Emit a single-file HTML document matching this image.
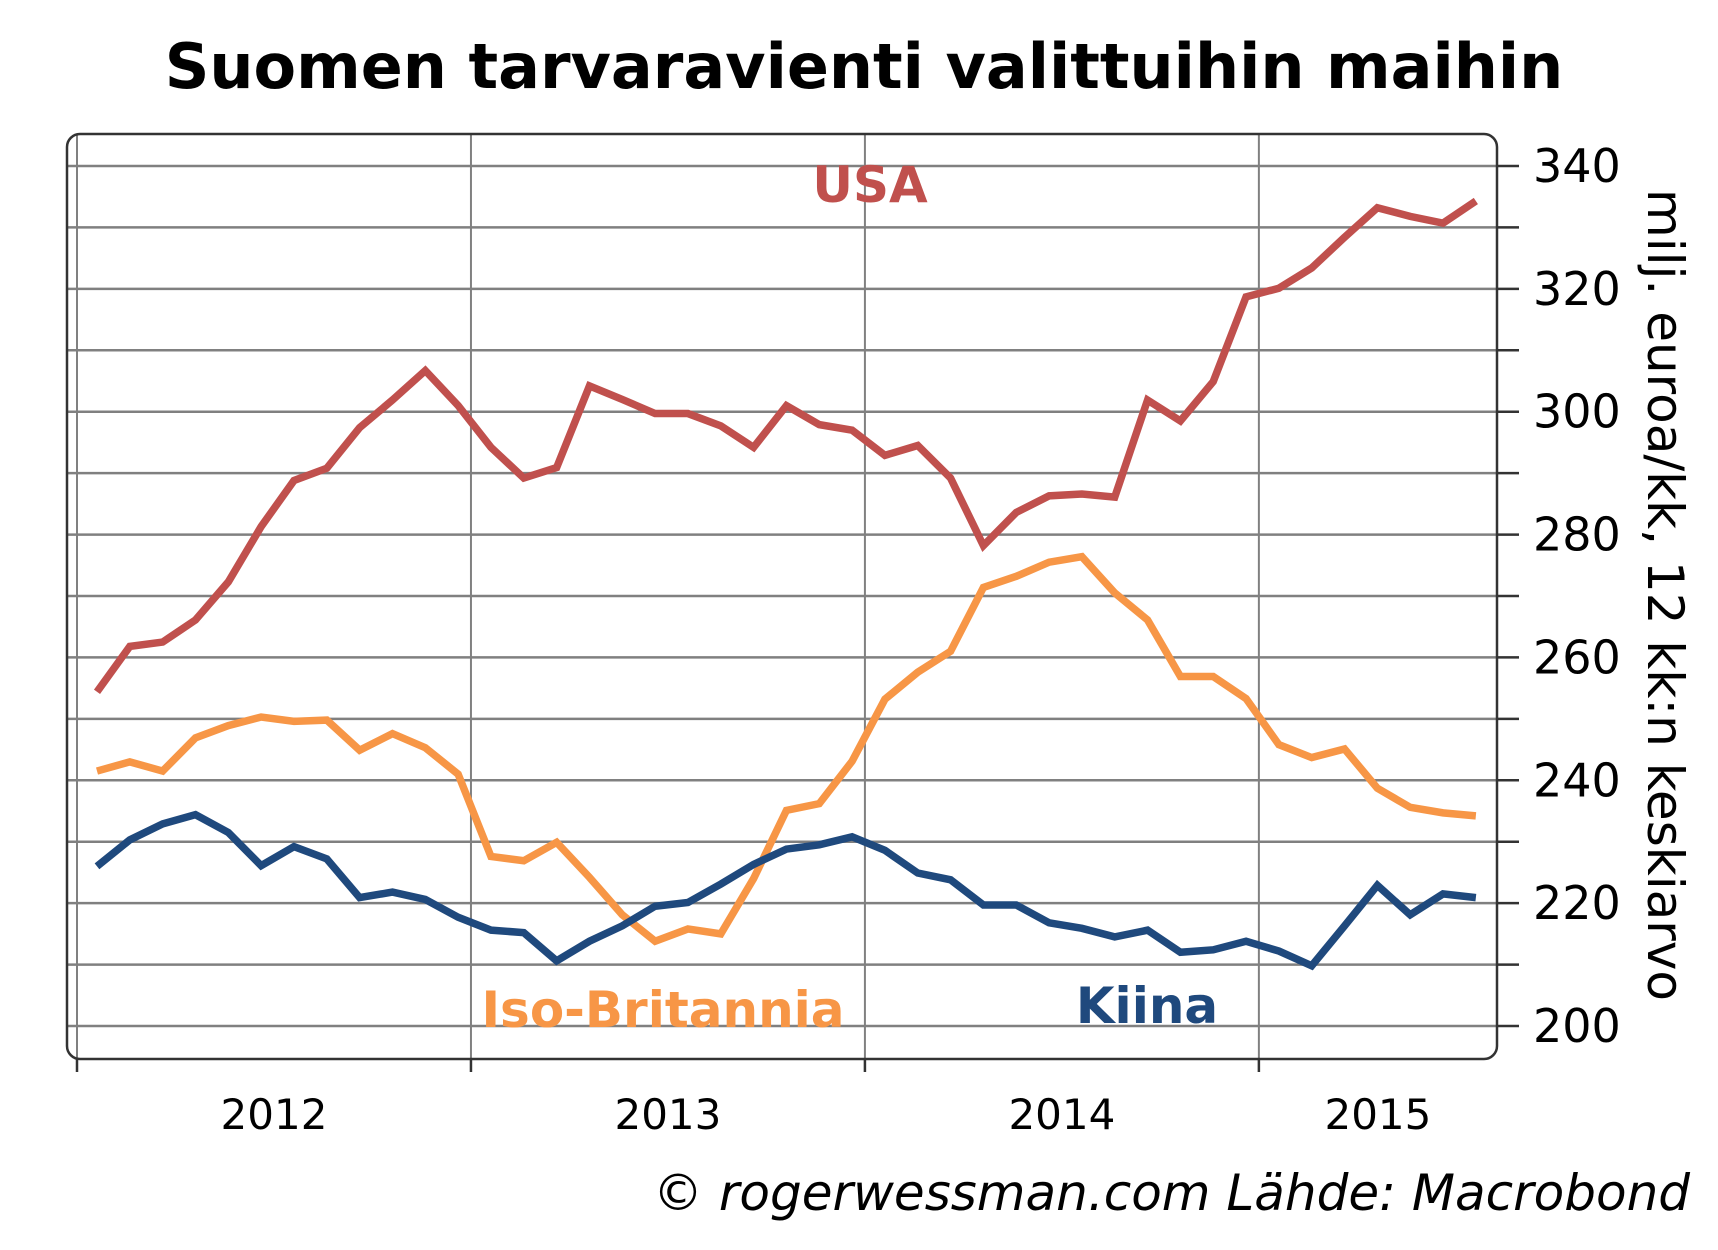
<!DOCTYPE html>
<html><head><meta charset="utf-8"><style>
html,body{margin:0;padding:0;background:#fff;}
svg{display:block;font-family:"DejaVu Sans","Liberation Sans",sans-serif;}
</style></head><body>
<svg id="chart" width="1718" height="1250" viewBox="0 0 1718 1250" xmlns="http://www.w3.org/2000/svg">
<text x="864" y="88" text-anchor="middle" font-size="62" font-weight="bold" fill="#000">Suomen tarvaravienti valittuihin maihin</text>
<g id="grid"></g>
<rect x="67" y="134" width="1430" height="925" rx="13" fill="none" stroke="#333" stroke-width="2.5"/>
<g id="axes"></g>
<g id="series"></g>
<text x="870" y="202" text-anchor="middle" font-size="50" font-weight="bold" fill="#c0504d">USA</text>
<text x="663" y="1027" text-anchor="middle" font-size="50" font-weight="bold" fill="#f79646">Iso-Britannia</text>
<text x="1147" y="1023" text-anchor="middle" font-size="50" font-weight="bold" fill="#1f497d">Kiina</text>
<text transform="translate(1648,595) rotate(90)" text-anchor="middle" font-size="50" fill="#000">milj. euroa/kk, 12 kk:n keskiarvo</text>
<text x="1690" y="1210" text-anchor="end" font-size="50" font-style="italic" fill="#000">© rogerwessman.com Lähde: Macrobond</text>
</svg>
<script>
const usa=[254.4,261.8,262.5,266.1,272.3,281.3,288.8,290.8,297.4,301.9,306.7,301,294.2,289.2,290.9,304.2,302,299.7,299.7,297.7,294.2,301,297.9,297,292.9,294.5,289.2,278.2,283.6,286.3,286.6,286.1,301.9,298.5,304.9,318.7,320.1,323.4,328.4,333.2,331.8,330.7,334.3];
const uk=[241.5,243,241.5,246.9,248.9,250.3,249.6,249.8,244.9,247.6,245.3,241,227.6,226.9,229.9,224.2,218.1,213.8,215.8,215,224,235.1,236.2,243.1,253.2,257.6,261,271.4,273.2,275.5,276.4,270.5,266.1,256.9,256.9,253.3,245.8,243.7,245.1,238.7,235.6,234.7,234.2];
const china=[226,230.3,232.9,234.4,231.5,226.1,229.2,227.2,220.9,221.8,220.6,217.7,215.6,215.2,210.6,213.8,216.3,219.5,220.1,223.1,226.3,228.8,229.5,230.8,228.6,224.9,223.8,219.7,219.7,216.8,215.9,214.5,215.6,212,212.4,213.8,212.2,209.8,216.3,222.9,218.1,221.5,220.9];
const yTicks=[200,220,240,260,280,300,320,340];
const years=["2012","2013","2014","2015"];
const NS="http://www.w3.org/2000/svg";
function y(v){return 166+(340-v)*(1026-166)/140;}
function x(i){return 97+i*32.83;}
function yearX(k){return x(0)-20+k*12*32.83;}
function mk(t,a,p){const e=document.createElementNS(NS,t);for(const k in a)e.setAttribute(k,a[k]);p.appendChild(e);return e;}
const grid=document.getElementById('grid'),axes=document.getElementById('axes'),ser=document.getElementById('series');
for(let v=200;v<=340;v+=10){
  const l=mk('line',{x1:67,x2:1497,y1:y(v),y2:y(v),stroke:'#808080','stroke-width':2.5},grid);
  
  
  const t=mk('line',{x1:1497,x2:1519,y1:y(v),y2:y(v),stroke:'#333','stroke-width':2.5},axes);
  
  
}
yTicks.forEach(v=>{
  const t=mk('text',{x:1533,y:y(v)+16,'font-size':46,fill:'#000'},axes);
  t.textContent=v;
  
  
});
for(let k=0;k<4;k++){
  const gx=yearX(k);
  const l=mk('line',{x1:gx,x2:gx,y1:134,y2:1059,stroke:'#808080','stroke-width':2},grid);
  
  
  const t=mk('line',{x1:gx,x2:gx,y1:1059,y2:1072,stroke:'#333','stroke-width':2.5},axes);
  
  
  const end=k<3?yearX(k+1):1497;
  const lb=mk('text',{x:(gx+end)/2,y:1129,'text-anchor':'middle','font-size':42,fill:'#000'},axes);
  lb.textContent=years[k];
  
  
}
function line(d,c,n){
  const p=mk('polyline',{points:d.map((v,i)=>x(i)+','+y(v)).join(' '),fill:'none',stroke:c,'stroke-width':7.5,'stroke-linejoin':'miter'},ser);
  
  
}
line(uk,'#f79646','line-iso-britannia');
line(china,'#1f497d','line-kiina');
line(usa,'#c0504d','line-usa');
</script>
</body></html>
